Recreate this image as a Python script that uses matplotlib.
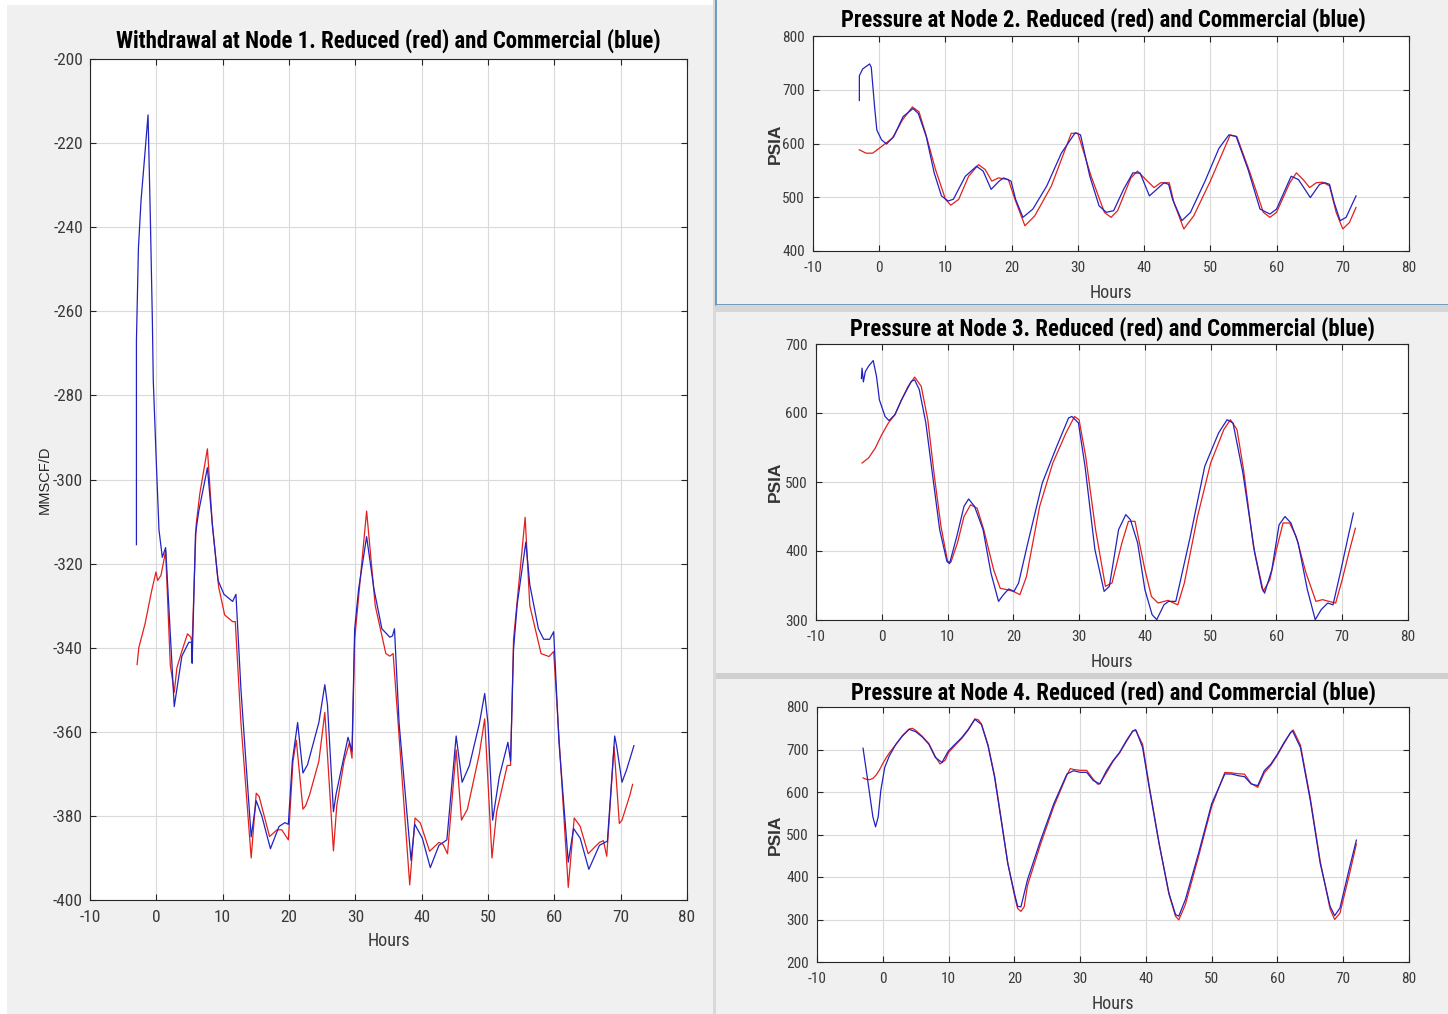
import matplotlib
matplotlib.use("Agg")
import matplotlib.pyplot as plt
from matplotlib.patches import Rectangle
from matplotlib.ticker import MultipleLocator
from matplotlib import font_manager
from matplotlib.font_manager import FontProperties

plt.rcParams["axes.unicode_minus"] = False

# ---------------- data ----------------
# Node 1 withdrawal (MMSCF/D)
n1_blue_h = [-3.0, -3.0, -2.7, -2.3, -1.8, -1.25, -0.9, -0.6, -0.46, 0.0, 0.4, 0.9, 1.4,
             2.7, 3.85, 4.9, 5.3, 5.4, 5.9, 6.4, 7.7, 8.45, 9.3, 10.2, 11.5, 12.0,
             12.76, 13.5, 14.3, 15.06, 15.9, 17.2, 18.5, 19.4, 19.9, 20.5, 21.3, 22.1,
             22.8, 24.5, 25.4, 25.8, 26.7, 27.1, 28.3, 28.9, 29.5, 29.9, 30.5, 31.7,
             32.8, 34.0, 35.2, 35.6, 35.9, 36.6, 38.4, 38.96, 40.1, 41.3, 42.6, 43.8,
             45.2, 46.1, 47.2, 48.7, 49.5, 50.0, 50.7, 51.7, 53.0, 53.4, 53.85, 54.4,
             55.7, 56.3, 57.6, 58.4, 59.3, 59.9, 60.7, 62.1, 62.9, 63.9, 65.2, 66.8,
             68.0, 69.1, 69.4, 70.2, 70.9, 72.0]
n1_blue_v = [-315.5, -267, -245, -233.5, -224, -213.3, -238, -262, -276.5, -296, -312, -318.5, -316.2,
             -354, -342, -338.7, -338.7, -343.7, -313, -307.5, -297.2, -310.8, -324, -327.3, -329, -327.3,
             -350, -367, -385, -376.4, -380, -387.8, -382.5, -381.6, -382, -367, -357.8, -369.8,
             -367.8, -357.8, -348.8, -353.6, -379, -374.8, -365.8, -361.3, -364.6, -335.5, -326, -313.6,
             -326, -335.5, -337.5, -337.2, -335.5, -358, -390.6, -382, -385.3, -392.3, -387, -385.7,
             -361, -372, -368, -358, -350.9, -358, -381, -370.7, -362.5, -367, -340.4, -329.7,
             -314.9, -325, -335.5, -338, -338, -336.2, -362.5, -391, -383, -385.3, -392.7, -387,
             -386, -361, -363.5, -372, -369, -363.3]

n1_red_h = [-2.9, -2.64, -1.7, -0.75, -0.06, 0.2, 0.7, 1.4, 2.1, 2.7, 3.1, 3.85, 4.7, 5.2, 5.4,
            6.0, 6.55, 7.7, 8.45, 9.4, 10.3, 11.5, 11.9, 12.76, 14.3, 15.06, 15.5, 17.07, 18.2,
            18.9, 19.9, 20.6, 21.1, 22.1, 22.5, 23.1, 24.5, 25.4, 26.7, 27.2, 28.3, 29.1, 29.5,
            29.9, 31.7, 33.0, 34.6, 35.2, 35.7, 38.2, 39.0, 39.8, 41.2, 42.6, 43.2, 43.9, 45.2,
            46.0, 46.9, 48.7, 49.5, 50.6, 51.3, 52.9, 53.4, 53.85, 55.6, 56.3, 58.0, 59.2, 59.9,
            62.1, 63.0, 63.9, 65.1, 66.8, 67.4, 67.9, 69.0, 69.8, 70.2, 71.4, 71.8]
n1_red_v = [-344, -340, -334.3, -326.8, -322, -324, -322.8, -317, -344, -350.6, -344.8, -340.8, -336.7, -337.5, -339,
            -310.8, -303.4, -292.7, -310.8, -325.6, -332.2, -333.8, -333.8, -358, -390, -374.6, -375.4, -384.9, -383.3,
            -383.3, -385.7, -367, -362, -378.4, -377.6, -375, -367, -355.4, -388.3, -377.6, -367, -362.6, -366.3,
            -338, -307.5, -330, -341.4, -342, -341.4, -396.4, -380.5, -381.7, -388.4, -386.3, -386.7, -389, -364.3,
            -381, -378.4, -365.2, -356.9, -390, -379.1, -368, -368, -338, -309, -330, -341.4, -342.1, -340.9,
            -397, -380.5, -382.5, -389, -386.3, -385.9, -389.6, -363.5, -381.8, -381, -375, -372.5]

# Node 2 pressure (PSIA)
n2_blue_h = [-3.0, -3.0, -2.5, -1.45, -1.2, -0.7, -0.36, 0.36, 1.1, 2.2, 3.6, 5.1, 5.9, 7.1, 8.3,
             9.4, 10.4, 11.2, 13.0, 14.7, 15.7, 16.9, 18.1, 18.8, 19.9, 20.6, 21.7, 23.2, 25.3,
             27.5, 29.6, 30.4, 31.8, 33.2, 34.3, 35.4, 36.9, 38.3, 39.4, 40.8, 41.9, 43.0, 43.7,
             44.3, 45.7, 47.0, 49.2, 51.3, 52.8, 53.9, 55.7, 57.5, 59.0, 60.0, 62.2, 63.3, 65.1,
             66.5, 67.3, 68.0, 68.7, 69.6, 70.5, 72.0]
n2_blue_v = [680, 726, 738.7, 748, 741.7, 668, 625, 606.7, 599, 613, 650, 665, 656, 613, 545.4,
             502.5, 493, 496.3, 539, 557.7, 548.5, 514.7, 530, 536, 530, 496, 462.6, 478, 521,
             582, 620, 616, 539, 484, 472, 475, 514.7, 545.4, 545, 502.5, 514.7, 527, 524,
             496, 456.4, 471.8, 530, 591, 616, 613, 551.5, 478, 468.7, 478, 539, 533, 499.4,
             524, 527, 524, 490, 456.4, 462.6, 502.5]

n2_red_h = [-3, -2, -1, 0, 1, 2, 3.5, 5, 6, 7, 8.5, 10, 10.8, 12, 13.5, 15, 16, 17, 18, 19.5,
            20.5, 22, 23.5, 26, 29, 30, 32, 34, 35, 36, 38, 39, 40.5, 41.5, 42.5, 43.8, 44.5,
            46, 47.5, 50, 53, 54, 56, 58, 59, 60, 62, 63, 64, 65, 66, 67, 68, 69, 70, 71, 72]
n2_red_v = [588.3, 582, 582, 591, 600.6, 610, 643.6, 668, 659, 619, 551.5, 496.3, 485.3, 496, 539,
            560.7, 551.5, 530, 536, 533, 496, 447, 465.6, 521, 619, 619, 539, 472, 462.6, 475,
            536, 548.5, 530, 518, 527, 527, 490, 441, 465.6, 530, 616, 613, 545.4, 472, 462.6,
            472, 527, 545.4, 533, 518, 527, 528, 521, 472, 441, 453, 481]

# Node 3 pressure (PSIA)
n3_blue_h = [-3.1, -3.0, -2.8, -2.5, -2.0, -1.3, -0.8, -0.36, 0.5, 1.1, 2.0, 3.0, 4.5, 5.0, 5.7,
             6.7, 7.75, 8.8, 9.9, 10.3, 11.4, 12.5, 13.2, 14.1, 15.4, 16.6, 17.75, 18.5, 19.3,
             20.1, 20.8, 22.2, 24.4, 26.6, 28.4, 28.9, 29.9, 30.9, 32.4, 33.8, 34.6, 36.0, 37.1,
             37.8, 38.9, 40.0, 41.1, 41.8, 42.9, 43.6, 44.7, 46.9, 49.1, 51.2, 52.5, 53.4, 54.9,
             56.7, 57.8, 58.2, 59.3, 60.4, 61.3, 62.2, 63.3, 64.7, 65.9, 66.8, 67.8, 68.6, 69.7,
             70.8, 71.7]
n3_blue_v = [650, 665, 645, 660, 668, 676, 653, 619, 595, 589, 597.6, 619, 646, 648, 634,
             585.5, 508, 431, 385, 381.6, 421, 464.7, 475.4, 464.7, 431, 368, 327, 336.7, 345,
             341.5, 353.6, 411.6, 498.5, 551.7, 592.8, 595, 585.5, 522.7, 402, 341.5, 348.8, 431, 452.7,
             445.4, 411.6, 344, 307.7, 300.5, 322, 327, 327, 421, 522.7, 571, 590.3, 585.5, 513,
             397, 346, 339, 373, 438, 450, 440.6, 411.6, 344, 300.5, 315, 324.6, 322, 368,
             416.4, 455]

n3_red_h = [-3, -2, -1, 0, 1, 2, 3, 4, 5, 6, 7, 8, 9, 10, 10.5, 11.5, 12.5, 13.5, 14.5, 15.5,
            17, 18, 19, 20, 21, 22, 24, 26, 28, 29.3, 30, 31, 32.5, 34, 35, 36.5, 37.5, 38.5,
            40, 41, 42, 43.5, 45, 46, 48, 50, 52, 53, 54, 55, 56.5, 58, 59, 60, 61, 62, 63,
            64.5, 66, 67, 68, 69, 70, 71, 72]
n3_red_v = [527.5, 535, 549, 568.6, 585.5, 597.6, 619, 638.6, 652, 638.6, 590, 508, 435.7, 385,
            383.6, 411.6, 450, 467, 462, 431, 373, 346, 344, 341.5, 336.7, 363, 464.7, 527.5,
            571, 595, 590, 537, 431, 348.8, 353.6, 411.6, 443, 443, 373, 334, 324.6, 328.5,
            322, 353.6, 450, 527.5, 576, 590.3, 576, 518, 406.8, 341.5, 358.5, 402, 440.6,
            440.6, 421, 368, 327, 329.5, 327, 324.6, 358.5, 397, 433]

# Node 4 pressure (PSIA)
n4_blue_h = [-3, -2.5, -2, -1.5, -1.1, -0.7, -0.3, 0.3, 1, 2, 3, 4, 5, 6, 7, 8, 9, 10, 11, 12,
             13, 14, 15, 16, 17, 18, 19, 20, 20.5, 21, 22, 24, 26, 28, 29, 30, 31, 32, 33, 34,
             35, 36, 37, 38, 38.5, 39.5, 40.5, 42, 43.5, 44.5, 45, 46, 48, 50, 52, 53, 54, 55,
             56, 57, 58, 59, 60, 61, 62, 62.3, 63.5, 65, 66.5, 68, 68.7, 69.5, 71, 72]
n4_blue_v = [703, 650, 595.7, 541, 518, 541, 603.5, 658, 685, 712.5, 732, 747.5, 742, 729.6,
             712.5, 681, 669.6, 697, 712.5, 728, 747.5, 771, 759, 708.6, 634.6, 533.5, 432.3,
             362.3, 331, 329.6, 393.4, 486.8, 572.4, 642.4, 650, 646.3, 646.3, 627, 619, 650,
             673.5, 693, 720, 743.6, 745, 704.7, 611, 479, 362.3, 311.7, 307.8, 346.7, 455.6,
             572.4, 642.4, 642.4, 638.5, 636, 619, 615, 650, 665.8, 689, 716.3, 739.7, 743.6,
             704.7, 580, 432.3, 331, 309, 327, 424.5, 486.8]

n4_red_h = [-3, -2.5, -2, -1.5, -1, -0.5, 0, 0.5, 1, 2, 3, 4, 4.5, 5, 6, 7, 8, 8.7, 9.5, 10,
            11, 12, 13, 14, 14.5, 15, 16, 17, 18, 19, 20, 20.5, 21, 21.5, 22, 24, 26, 28, 28.5,
            29, 30, 31, 32, 32.7, 33, 34, 35, 36, 37, 38, 38.4, 39.5, 40.5, 42, 43.5, 44.5, 45,
            46, 48, 50, 52, 53, 54, 55, 56, 57, 58, 59, 60, 61, 62, 62.4, 63.5, 65, 66.5, 68,
            68.7, 69.5, 71, 72]
n4_red_v = [633, 630, 629, 632, 640, 652, 667, 680, 692, 712, 733, 748, 750, 745, 731, 714, 683,
            666, 675, 693, 710, 726, 746, 772, 770, 760, 711, 638, 537, 433, 358, 326, 319, 330,
            380, 478, 566, 640, 655, 653, 651, 651, 630, 618, 620, 645, 672, 692, 718, 743, 747,
            712, 615, 480, 360, 308, 299, 335, 448, 566, 646, 645, 643, 642, 620, 611, 645, 663,
            687, 714, 740, 746, 710, 585, 437, 325, 300, 315, 410, 478]

titles = ["Withdrawal at Node 1. Reduced (red) and Commercial (blue)",
          "Pressure at Node 2. Reduced (red) and Commercial (blue)",
          "Pressure at Node 3. Reduced (red) and Commercial (blue)",
          "Pressure at Node 4. Reduced (red) and Commercial (blue)"]
ylabels = ["MMSCF/D", "PSIA", "PSIA", "PSIA"]
xlabel = "Hours"
ylims = [(-400, -200), (400, 800), (300, 700), (200, 800)]
ysteps = [20, 100, 100, 100]

RED = "#e3201c"
BLUE = "#2222c0"
INK = "#262626"
REG = ["Liberation Sans", "DejaVu Sans"]


# ---------------- fonts: narrow faces for titles and ticks ----------------
def _weight(f):
    w = f.weight
    if isinstance(w, str):
        w = {"bold": 700, "heavy": 800, "black": 900, "semibold": 600,
             "demibold": 600, "medium": 500}.get(w, 400)
    return w


def _narrow_face(bold):
    fonts = [f for f in font_manager.fontManager.ttflist
             if ("Narrow" in f.fname or "Condensed" in f.fname) and "Italic" not in f.fname
             and "Oblique" not in f.fname]
    fonts = [f for f in fonts if (_weight(f) >= 600) == bold]
    fonts.sort(key=lambda f: (0 if "Liberation" in f.fname else 1 if "Roboto" in f.fname else 2,
                              abs(_weight(f) - (700 if bold else 400))))
    return fonts[0].fname if fonts else None


_bold_path = _narrow_face(True)
_reg_path = _narrow_face(False)


def narrow(size, bold=False):
    path = _bold_path if bold else _reg_path
    if path:
        return FontProperties(fname=path, size=size)
    return FontProperties(family="Liberation Sans", size=size * 0.85,
                          weight="bold" if bold else "normal")


W, H = 1448, 1014
fig = plt.figure(figsize=(W / 100, H / 100), dpi=100, facecolor="white")


def frac(x0, y0, x1, y1):
    """pixel box (top-left origin) -> figure fraction rect"""
    return [x0 / W, 1 - y1 / H, (x1 - x0) / W, (y1 - y0) / H]


def backdrop(x0, y0, x1, y1, face="#f0f0f0", edge="none", lw=0.0):
    r = frac(x0, y0, x1, y1)
    fig.add_artist(Rectangle((r[0], r[1]), r[2], r[3], transform=fig.transFigure,
                             facecolor=face, edgecolor=edge, linewidth=lw, zorder=-10))


# window backgrounds and separators
backdrop(7, 5, 713, 1016)
backdrop(713, 0, 716, 1016, face="#d9d9d9")
backdrop(716, -2, 1450, 305, edge="#5b8db5", lw=1.2)
backdrop(716, 305, 1450, 312, face="#d6d6d6")
backdrop(716, 312, 1450, 673)
backdrop(716, 673, 1450, 679, face="#cfcfcf")
backdrop(716, 679, 1450, 1016)

boxes = [(90, 59, 687, 900), (813, 36, 1409, 251), (816, 344, 1408, 620), (817, 707, 1409, 962)]
series = [((n1_red_h, n1_red_v), (n1_blue_h, n1_blue_v)),
          ((n2_red_h, n2_red_v), (n2_blue_h, n2_blue_v)),
          ((n3_red_h, n3_red_v), (n3_blue_h, n3_blue_v)),
          ((n4_red_h, n4_red_v), (n4_blue_h, n4_blue_v))]
title_pads = [8, 6.5, 6, 5]
title_x = [0.5, 0.488, 0.5, 0.5]
tick_sizes = [12.4, 11, 11, 11]
xlabel_pads = [5, 7, 7, 7]
ylabel_right_px = [52, 783, 783, 783]   # right edge of the rotated y label

for i, box in enumerate(boxes):
    ax = fig.add_axes(frac(*box))
    ax.set_facecolor("white")
    (rh, rv), (bh, bv) = series[i]
    ax.plot(rh, rv, color=RED, lw=0.9, zorder=3)
    ax.plot(bh, bv, color=BLUE, lw=0.9, zorder=4)
    ax.set_xlim(-10, 80)
    ax.set_ylim(*ylims[i])
    ax.xaxis.set_major_locator(MultipleLocator(10))
    ax.yaxis.set_major_locator(MultipleLocator(ysteps[i]))
    ax.grid(True, color="#dadada", lw=0.8, zorder=0)
    ax.set_axisbelow(True)
    ax.tick_params(direction="in", length=4.5, width=0.8, colors=INK, top=True, right=True)
    ax.tick_params(axis="x", pad=7)
    ax.tick_params(axis="y", pad=5 if i == 0 else 6)
    fp_tick = narrow(tick_sizes[i])
    for lab in ax.get_xticklabels() + ax.get_yticklabels():
        lab.set_fontproperties(fp_tick)
        lab.set_color("#3a3a3a")
    for s in ax.spines.values():
        s.set_color(INK)
        s.set_linewidth(0.8)
    ax.set_title(titles[i], fontproperties=narrow(16.4, bold=True), color="black",
                 pad=title_pads[i], x=title_x[i])
    ax.set_xlabel(xlabel, fontproperties=narrow(13), color="#3a3a3a", labelpad=xlabel_pads[i])
    if i == 0:
        ax.set_ylabel(ylabels[i], family=REG, fontsize=10.5, color=INK)
    else:
        ax.set_ylabel(ylabels[i], family=REG, fontweight="bold", fontsize=12.5, color="#333333")
    ax.yaxis.set_label_coords((ylabel_right_px[i] - box[0]) / (box[2] - box[0]), 0.5)

fig.savefig("out.png", dpi=100, facecolor=fig.get_facecolor())
